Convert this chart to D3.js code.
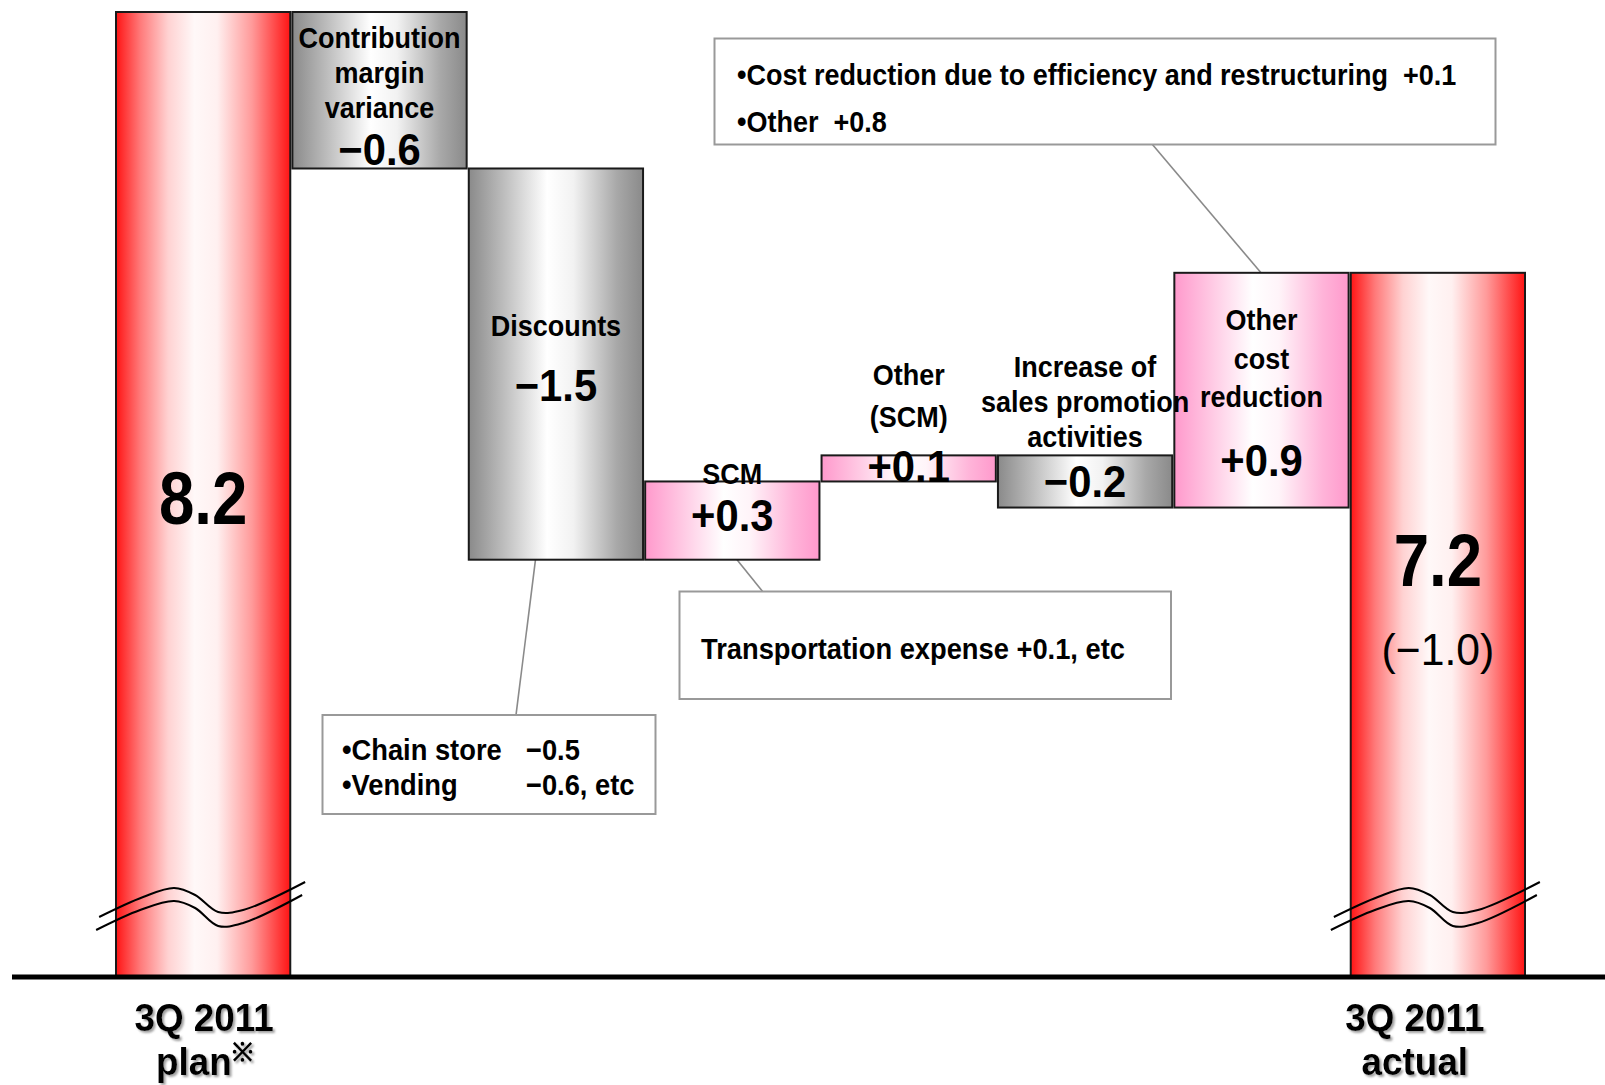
<!DOCTYPE html>
<html>
<head>
<meta charset="utf-8">
<script src="https://cdn.jsdelivr.net/npm/d3@7"></script>
<style>
  html, body { margin: 0; padding: 0; background: #fff; }
  svg { display: block; }
  text { font-family: "Liberation Sans", Arial, sans-serif; font-weight: bold; fill: #000; white-space: pre; }
</style>
</head>
<body>
<svg id="chart" width="1605" height="1085"></svg>
<script>
// Operating income bridge: 3Q 2011 plan -> 3Q 2011 actual
const categories = ["plan", "contribution", "discounts", "scm", "otherScm", "promotion", "otherCost", "actual"];
const kinds      = ["total", "down", "down", "up", "up", "down", "up", "total"];
const startTotal = 8.2;
const changes    = [null, -0.6, -1.5, 0.3, 0.1, -0.2, 0.9, null];
const endTotal   = 7.2;
const nameLines  = [[], ["Contribution", "margin", "variance"], ["Discounts"], ["SCM"],
                    ["Other", "(SCM)"], ["Increase of", "sales promotion", "activities"],
                    ["Other", "cost", "reduction"], []];
const axisLabels = { plan: ["3Q 2011", "plan"], actual: ["3Q 2011", "actual"] };
const discountNotes  = [["\u2022Chain store", "\u22120.5"], ["\u2022Vending", "\u22120.6, etc"]];
const scmNotes       = ["Transportation expense +0.1, etc"];
const costNotes      = ["\u2022Cost reduction due to efficiency and restructuring  +0.1", "\u2022Other  +0.8"];

const svg = d3.select("#chart");
const W = 1605;
const axisY = 977;
const floorValue = 4.5; // value at the broken baseline

// scales
const x = d3.scaleBand().domain(categories).range([116, 1525]).paddingInner(0.012);
const y = d3.scaleLinear().domain([floorValue, startTotal]).range([axisY, 12]);
const fmtDelta = d3.format("+.1f");
const fmtTotal = d3.format(".1f");

// running totals -> bar extents
let run = startTotal;
const bars = categories.map((c, i) => {
  let from, to;
  if (kinds[i] === "total") {
    from = floorValue; to = i === 0 ? startTotal : endTotal;
  } else {
    from = run; to = run + changes[i]; run = to;
  }
  const top = y(Math.max(from, to)), bottom = y(Math.min(from, to));
  return { key: c, kind: kinds[i], i, x0: x(c), w: x.bandwidth(), top, bottom,
           cx: x(c) + x.bandwidth() / 2, mid: (top + bottom) / 2 };
});
const byKey = Object.fromEntries(bars.map(b => [b.key, b]));

// gradients
const defs = svg.append("defs");
function hGrad(id, stops) {
  const g = defs.append("linearGradient").attr("id", id).attr("x1", "0%").attr("x2", "100%").attr("y1", "0%").attr("y2", "0%");
  stops.forEach(([o, c]) => g.append("stop").attr("offset", o).attr("stop-color", c));
}
hGrad("gRed",  [[0, "#ff1414"], [0.14, "#ff7a7a"], [0.3, "#ffd2d2"], [0.45, "#fff8f8"], [0.58, "#fff0f0"], [0.78, "#ff9a9a"], [1, "#ff1414"]]);
hGrad("gGrey", [[0, "#8a8a8a"], [0.2, "#bdbdbd"], [0.45, "#ffffff"], [0.6, "#f2f2f2"], [0.85, "#a8a8a8"], [1, "#8a8a8a"]]);
hGrad("gPink", [[0, "#ff99cc"], [0.2, "#ffc6e2"], [0.45, "#ffffff"], [0.6, "#fff4f9"], [0.85, "#ffb4d9"], [1, "#ff99cc"]]);

const shadow = defs.append("filter").attr("id", "shadow").attr("x", "-10%").attr("y", "-20%").attr("width", "130%").attr("height", "150%");
shadow.append("feDropShadow").attr("dx", 2).attr("dy", 2).attr("stdDeviation", 1.2).attr("flood-color", "#888").attr("flood-opacity", 0.8);

const fillOf = k => k === "total" ? "url(#gRed)" : k === "down" ? "url(#gGrey)" : "url(#gPink)";

// condensed text helper: gothic-style narrow lettering
function say(g, xp, yp, txt, size, o = {}) {
  const t = g.append("text")
    .attr("transform", `translate(${xp},${yp}) scale(${o.sx || 0.91},1)`)
    .attr("font-size", size)
    .attr("text-anchor", o.anchor || "middle")
    .text(txt);
  if (o.weight) t.style("font-weight", o.weight);
  return t;
}

// note boxes and leader lines (behind bars)
const notes = svg.append("g");
const leader = (x1, y1, x2, y2) => notes.append("line").attr("x1", x1).attr("y1", y1).attr("x2", x2).attr("y2", y2)
  .attr("stroke", "#8a8a8a").attr("stroke-width", 1.6);
leader(1261, byKey.otherCost.top, 1152, 144);
leader(535.5, byKey.discounts.bottom, 516, 715);
leader(737, byKey.scm.bottom, 763, 592);

function box(x0, y0, w, h) {
  notes.append("rect").attr("x", x0).attr("y", y0).attr("width", w).attr("height", h)
    .attr("fill", "#fff").attr("stroke", "#999").attr("stroke-width", 2);
}
const noteFont = 30;
box(714.5, 38.5, 781, 106);
costNotes.forEach((t, i) => say(notes, 737, 84.5 + i * 47, t, noteFont, { anchor: "start", sx: 0.9 }));

box(679.5, 591.5, 491.5, 107.5);
scmNotes.forEach((t, i) => say(notes, 701, 659 + i * 35, t, noteFont, { anchor: "start" }));

box(322.5, 715, 333, 99);
discountNotes.forEach(([a, b], i) => {
  say(notes, 342, 760 + i * 35, a, noteFont, { anchor: "start" });
  say(notes, 526, 760 + i * 35, b, noteFont, { anchor: "start" });
});

// bars
svg.append("g").selectAll("rect").data(bars).join("rect")
  .attr("x", d => d.x0).attr("y", d => d.top)
  .attr("width", d => d.w).attr("height", d => d.bottom - d.top)
  .attr("fill", d => fillOf(d.kind))
  .attr("stroke", "#1a1a1a").attr("stroke-width", 2);

// axis-break marks on the two totals
const wave = d3.line().curve(d3.curveCatmullRom.alpha(0.5));
bars.filter(b => b.kind === "total").forEach(b => {
  const c = b.cx;
  [[[c - 104, 917], [c - 60, 897], [c - 29, 888], [c - 8, 895], [c + 15, 912], [c + 40, 910], [c + 102, 882]],
   [[c - 107, 930], [c - 63, 910], [c - 29, 901], [c - 8, 908], [c + 15, 926], [c + 40, 923], [c + 99, 895]]]
    .forEach(pts => svg.append("path").attr("d", wave(pts)).attr("fill", "none")
      .attr("stroke", "#000").attr("stroke-width", 2));
});

// bar labels
const nameSize = 30, deltaSize = 44;
const lbl = svg.append("g");
function names(b, firstBaseline, step) {
  nameLines[b.i].forEach((t, k) => say(lbl, b.cx, firstBaseline + k * step, t, nameSize, { sx: 0.9 }));
}
const delta = (b, yb) => say(lbl, b.cx, yb, fmtDelta(changes[b.i]), deltaSize, { sx: 0.95 });

// totals
say(lbl, byKey.plan.cx, 524, fmtTotal(startTotal), 74, { sx: 0.86 });
const a = byKey.actual;
say(lbl, a.cx, a.mid - 39, fmtTotal(endTotal), 74, { sx: 0.86 });
say(lbl, a.cx, a.mid + 40, "(" + fmtTotal(endTotal - startTotal) + ")", 44, { sx: 0.97, weight: "normal" });

// changes
let b = byKey.contribution;
names(b, b.top + 36, 35);   delta(b, b.bottom - 3);
b = byKey.discounts;
names(b, b.mid - 28, 35);   delta(b, b.mid + 37);
b = byKey.scm;
names(b, b.top + 3, 35);    delta(b, b.bottom - 29);
b = byKey.otherScm;
const vScm = b.mid + 14;
names(b, vScm - 97, 42);    delta(b, vScm);
b = byKey.promotion;
const vPromo = b.mid + 16;
names(b, vPromo - 120, 35); delta(b, vPromo);
b = byKey.otherCost;
names(b, b.mid - 60, 38.5); delta(b, b.mid + 86);

// baseline
svg.append("line").attr("x1", 12).attr("x2", W).attr("y1", axisY).attr("y2", axisY)
  .attr("stroke", "#000").attr("stroke-width", 5);

// category labels under the totals
const catG = svg.append("g").attr("filter", "url(#shadow)");
Object.entries(axisLabels).forEach(([k, lines]) => {
  const cx = byKey[k].cx + (k === "actual" ? -23 : 1);
  say(catG, cx, 1031, lines[0], 38, { sx: 0.97 });
  const t2 = say(catG, cx, 1075, "", 38, { sx: 0.97 });
  t2.append("tspan").text(lines[1]);
  if (k === "plan") t2.append("tspan").attr("font-size", 26).attr("dy", -14).text("\u203B");
});
</script>
</body>
</html>
